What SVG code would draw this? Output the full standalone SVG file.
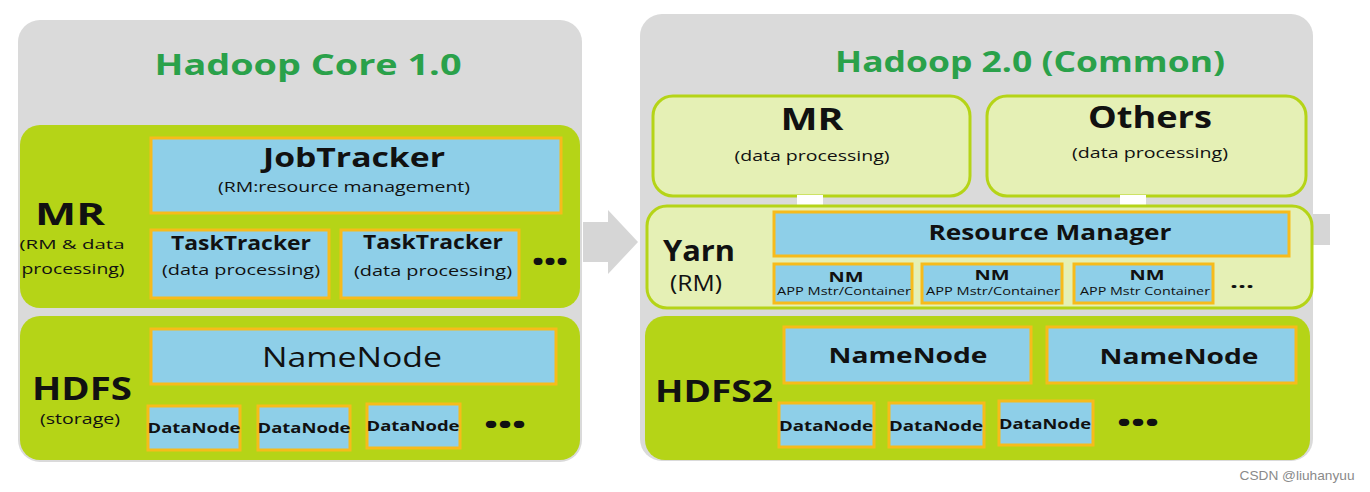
<svg xmlns="http://www.w3.org/2000/svg" width="1370" height="492" viewBox="0 0 1370 492">
<style>
text{font-family:"Open Sans","Noto Sans","DejaVu Sans",sans-serif;text-anchor:middle;fill:#111}
.panel{fill:#dadada}
.band{fill:#b5d417}
.lite{fill:#e5f0b5;stroke:#b5d417;stroke-width:3}
.blue{fill:#8ecfe8;stroke:#f7bb1b;stroke-width:3}
.title{fill:#2aa14a;font-weight:bold;font-size:28px}
.b{font-weight:bold}
.arrow{fill:#d6d6d6}
.wm{fill:#8a8a8a;font-family:"Liberation Sans",Arial,sans-serif}
</style>
<g id="connectors">
<path class="arrow" d="M583,222 H608 V210 L638,242 L608,274 V262 H583 Z"/>
<rect class="arrow" x="1312" y="214" width="18" height="31"/>
</g>
<g id="hadoop1">
<rect class="panel" x="18" y="20" width="564" height="442" rx="22"/>
<text class="title" x="308" y="75" textLength="307" lengthAdjust="spacingAndGlyphs">Hadoop Core 1.0</text>
</g>
<g id="mr1">
<rect class="band" x="20" y="125" width="560" height="183" rx="20"/>
<text class="b" x="70" y="225" font-size="31" textLength="70" lengthAdjust="spacingAndGlyphs">MR</text>
<text x="72" y="249" font-size="13.5" textLength="105" lengthAdjust="spacingAndGlyphs">(RM &amp; data</text>
<text x="73" y="274" font-size="14" textLength="103" lengthAdjust="spacingAndGlyphs">processing)</text>
</g>
<g id="jobtracker">
<rect class="blue" x="151" y="138" width="410" height="75"/>
<text class="b" x="354" y="167" font-size="27" textLength="182" lengthAdjust="spacingAndGlyphs">JobTracker</text>
<text x="344" y="192" font-size="14" textLength="252" lengthAdjust="spacingAndGlyphs">(RM:resource management)</text>
</g>
<g id="tasktracker1">
<rect class="blue" x="151" y="230" width="178" height="68"/>
<text class="b" x="241" y="250" font-size="20" textLength="140" lengthAdjust="spacingAndGlyphs">TaskTracker</text>
<text x="241" y="275" font-size="15" textLength="158" lengthAdjust="spacingAndGlyphs">(data processing)</text>
</g>
<g id="tasktracker2">
<rect class="blue" x="341" y="230" width="178" height="68"/>
<text class="b" x="433" y="249" font-size="20" textLength="140" lengthAdjust="spacingAndGlyphs">TaskTracker</text>
<text x="433" y="276" font-size="15" textLength="158" lengthAdjust="spacingAndGlyphs">(data processing)</text>
</g>
<text class="b" x="550" y="270" font-size="24" textLength="36" lengthAdjust="spacingAndGlyphs">•••</text>
<g id="hdfs1">
<rect class="band" x="20" y="316" width="560" height="144" rx="20"/>
<text class="b" x="82" y="400" font-size="32" textLength="100" lengthAdjust="spacingAndGlyphs">HDFS</text>
<text x="80" y="424" font-size="14" textLength="80" lengthAdjust="spacingAndGlyphs">(storage)</text>
</g>
<g id="namenode1">
<rect class="blue" x="151" y="329" width="405" height="55"/>
<text x="352" y="367" font-size="27" textLength="180" lengthAdjust="spacingAndGlyphs">NameNode</text>
</g>
<g id="datanode1a">
<rect class="blue" x="148" y="406" width="92" height="44"/>
<text class="b" x="194" y="433" font-size="15" textLength="93" lengthAdjust="spacingAndGlyphs">DataNode</text>
</g>
<g id="datanode1b">
<rect class="blue" x="258" y="406" width="92" height="44"/>
<text class="b" x="304" y="433" font-size="15" textLength="93" lengthAdjust="spacingAndGlyphs">DataNode</text>
</g>
<g id="datanode1c">
<rect class="blue" x="367" y="404" width="93" height="44"/>
<text class="b" x="413" y="431" font-size="15" textLength="93" lengthAdjust="spacingAndGlyphs">DataNode</text>
</g>
<text class="b" x="505" y="433" font-size="24" textLength="42" lengthAdjust="spacingAndGlyphs">•••</text>
<g id="hadoop2">
<rect class="panel" x="640" y="14" width="673" height="447" rx="22"/>
<text class="title" x="1030" y="72" textLength="390" lengthAdjust="spacingAndGlyphs">Hadoop 2.0 (Common)</text>
</g>
<g id="mr2">
<rect class="lite" x="653" y="96" width="317" height="100" rx="20"/>
<text class="b" x="812" y="130" font-size="31" textLength="63" lengthAdjust="spacingAndGlyphs">MR</text>
<text x="812" y="161" font-size="14" textLength="155" lengthAdjust="spacingAndGlyphs">(data processing)</text>
</g>
<g id="others">
<rect class="lite" x="987" y="96" width="319" height="100" rx="20"/>
<text class="b" x="1150" y="128" font-size="31" textLength="124" lengthAdjust="spacingAndGlyphs">Others</text>
<text x="1150" y="158" font-size="14" textLength="156" lengthAdjust="spacingAndGlyphs">(data processing)</text>
</g>
<rect x="797" y="195" width="26" height="12" fill="#fff"/>
<rect x="1120" y="195" width="26" height="12" fill="#fff"/>
<g id="yarn">
<rect class="lite" x="647" y="206" width="665" height="102" rx="20"/>
<text class="b" x="699" y="261" font-size="28" textLength="72" lengthAdjust="spacingAndGlyphs">Yarn</text>
<text x="696" y="291" font-size="21" textLength="52" lengthAdjust="spacingAndGlyphs">(RM)</text>
</g>
<g id="resourcemanager">
<rect class="blue" x="774" y="212" width="515" height="44"/>
<text class="b" x="1050" y="240" font-size="21" textLength="243" lengthAdjust="spacingAndGlyphs">Resource Manager</text>
</g>
<g id="nm1">
<rect class="blue" x="774" y="264" width="138" height="39"/>
<text class="b" x="846" y="282" font-size="15" textLength="35" lengthAdjust="spacingAndGlyphs">NM</text>
<text x="844" y="295" font-size="10" textLength="134" lengthAdjust="spacingAndGlyphs">APP Mstr/Container</text>
</g>
<g id="nm2">
<rect class="blue" x="922" y="264" width="140" height="39"/>
<text class="b" x="992" y="280" font-size="15" textLength="35" lengthAdjust="spacingAndGlyphs">NM</text>
<text x="993" y="295" font-size="10" textLength="134" lengthAdjust="spacingAndGlyphs">APP Mstr/Container</text>
</g>
<g id="nm3">
<rect class="blue" x="1074" y="264" width="139" height="39"/>
<text class="b" x="1147" y="280" font-size="15" textLength="35" lengthAdjust="spacingAndGlyphs">NM</text>
<text x="1145" y="295" font-size="10" textLength="130" lengthAdjust="spacingAndGlyphs">APP Mstr Container</text>
</g>
<text class="b" x="1242" y="288" font-size="18" textLength="24" lengthAdjust="spacingAndGlyphs">...</text>
<g id="hdfs2">
<rect class="band" x="645" y="316" width="665" height="144" rx="20"/>
<text class="b" x="714" y="402" font-size="30" textLength="118" lengthAdjust="spacingAndGlyphs">HDFS2</text>
</g>
<g id="namenode2a">
<rect class="blue" x="784" y="327" width="247" height="56"/>
<text class="b" x="908" y="363" font-size="22" textLength="159" lengthAdjust="spacingAndGlyphs">NameNode</text>
</g>
<g id="namenode2b">
<rect class="blue" x="1047" y="327" width="249" height="56"/>
<text class="b" x="1179" y="364" font-size="22" textLength="159" lengthAdjust="spacingAndGlyphs">NameNode</text>
</g>
<g id="datanode2a">
<rect class="blue" x="779" y="403" width="95" height="44"/>
<text class="b" x="826" y="431" font-size="15" textLength="94" lengthAdjust="spacingAndGlyphs">DataNode</text>
</g>
<g id="datanode2b">
<rect class="blue" x="889" y="403" width="95" height="44"/>
<text class="b" x="936" y="431" font-size="15" textLength="94" lengthAdjust="spacingAndGlyphs">DataNode</text>
</g>
<g id="datanode2c">
<rect class="blue" x="999" y="401" width="94" height="44"/>
<text class="b" x="1045" y="429" font-size="15" textLength="92" lengthAdjust="spacingAndGlyphs">DataNode</text>
</g>
<text class="b" x="1138" y="431" font-size="24" textLength="42" lengthAdjust="spacingAndGlyphs">•••</text>
<text class="wm" x="1297" y="480" font-size="13" textLength="115" lengthAdjust="spacingAndGlyphs">CSDN @liuhanyuu</text>
</svg>
